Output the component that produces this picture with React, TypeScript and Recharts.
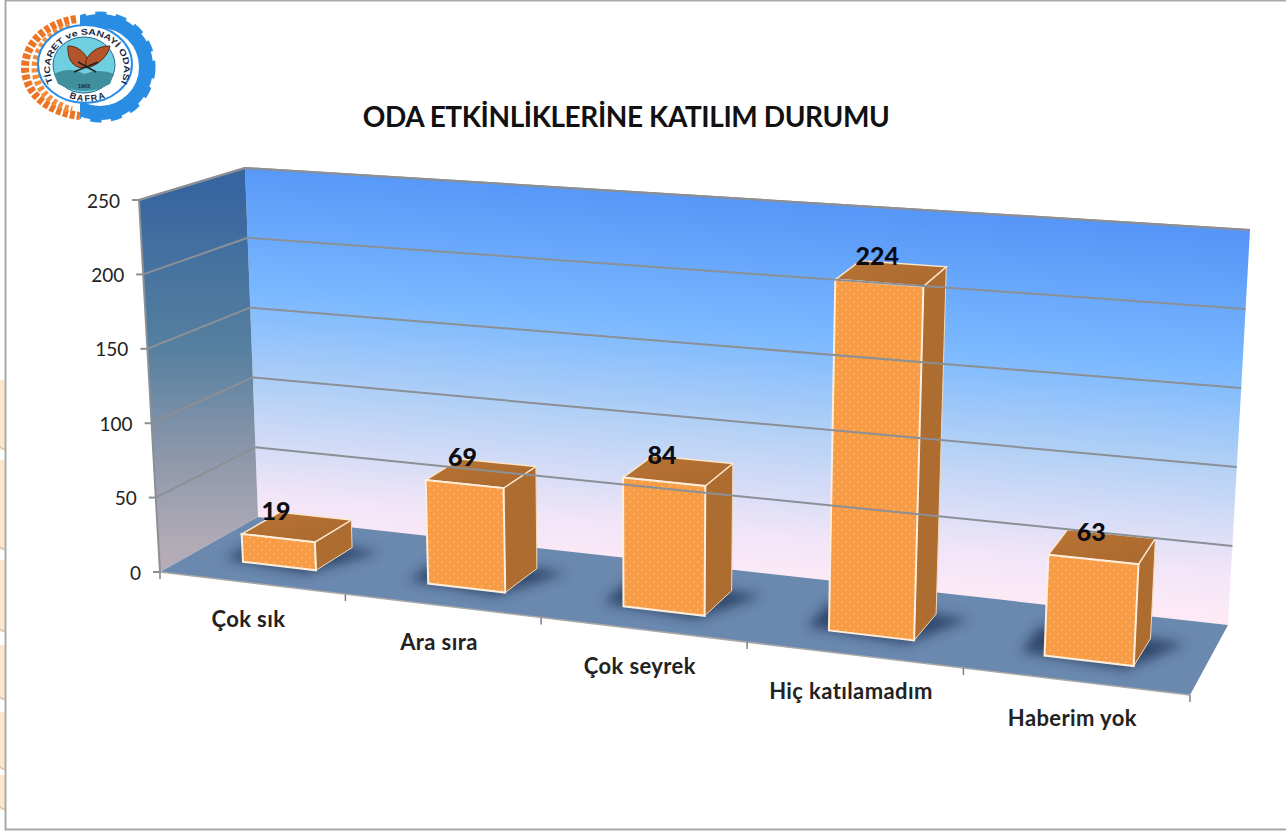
import { Bar, BarChart, LabelList, XAxis, YAxis } from 'recharts'

const categories = ['Çok sık', 'Ara sıra', 'Çok seyrek', 'Hiç katılamadım', 'Haberim yok']
const participants = [19, 69, 84, 224, 63]
const yTicks = [0, 50, 100, 150, 200, 250]

const data = categories.map((name, i) => ({ name, value: participants[i] }))

const W = 1286
const H = 832
const FONT = 'Lato, Carlito, sans-serif'
const LOGO_FONT = 'Liberation Sans, sans-serif'

// flat plot box handed to recharts, re-projected onto the 3d box below
const PL = 100
const PW = 1086
const PT = 100
const PH = 632
const PB = PT + PH

type Pt = [number, number]
const lerp = (a: number, b: number, t: number) => a + (b - a) * t
const mix = (a: Pt, b: Pt, t: number): Pt => [lerp(a[0], b[0], t), lerp(a[1], b[1], t)]

const FBL: Pt = [160, 572]
const FBR: Pt = [1190, 695]
const FTL: Pt = [139, 200]
const FTR: Pt = [1212, 283]
const BBL: Pt = [258, 517]
const BBR: Pt = [1228, 625]
const BTL: Pt = [245, 168]
const BTR: Pt = [1250, 230]

// the right side of the plot sits closer to the camera
const warp = (u: number) => u * (0.875 + 0.125 * u)

function project(u: number, v: number, d: number): Pt {
  const k = warp(u)
  const front = mix(mix(FBL, FBR, k), mix(FTL, FTR, k), v)
  const back = mix(mix(BBL, BBR, k), mix(BTL, BTR, k), v)
  return mix(front, back, d)
}

const poly = (pts: Pt[]) => pts.map((p) => `${p[0].toFixed(1)},${p[1].toFixed(1)}`).join(' ')
const toU = (x: number) => (x - PL) / PW
const toV = (y: number) => (PB - y) / PH

const D0 = 0.3
const D1 = 0.7

function Box3D(props: any) {
  const { x, y, width } = props
  const u0 = toU(x)
  const u1 = toU(x + width)
  const v = toV(y)
  const a = project(u0, v, D0)
  const b = project(u1, v, D0)
  const c = project(u1, 0, D0)
  const e = project(u0, 0, D0)
  const f = project(u1, v, D1)
  const g = project(u1, 0, D1)
  const h = project(u0, v, D1)
  const shadow = [
    project(u0 - 0.022, 0, D0 + 0.02),
    project(u1 - 0.005, 0, D0 - 0.06),
    project(u1 + 0.032, 0, D1 - 0.02),
    project(u1, 0, D1),
    project(u0 - 0.022, 0, D1),
  ]
  return (
    <g>
      <polygon points={poly(shadow)} fill="#22375a" opacity={0.8} filter="url(#floorBlur)" />
      <polygon points={poly([b, c, g, f])} fill="#ad6c30" stroke="#f3d9b8" strokeWidth={1} />
      <polygon points={poly([a, b, f, h])} fill="url(#lid)" stroke="#fbe6cc" strokeWidth={1.5} />
      <polygon points={poly([a, b, c, e])} fill="url(#dots)" stroke="#fdeedd" strokeWidth={2} />
    </g>
  )
}

function BoxLabel(props: any) {
  const { x, y, width, value } = props
  const [px, py] = project(toU(x + width / 2), toV(y), D0)
  return (
    <text x={px - 2} y={py - 28} textAnchor="middle" dominantBaseline="central" fontFamily={FONT} fontSize={25} fontWeight={900} fill="#0c0c14">
      {value}
    </text>
  )
}

function ValueTick(props: any) {
  const { y, payload } = props
  const v = toV(y)
  const f = project(0, v, 0)
  const b = project(0, v, 1)
  const r = project(1, v, 1)
  return (
    <g>
      {v > 0 && <line x1={f[0]} y1={f[1]} x2={b[0]} y2={b[1]} stroke="#8b8f96" strokeWidth={2} />}
      {v > 0 && <line x1={b[0]} y1={b[1]} x2={r[0]} y2={r[1]} stroke="#8b8f96" strokeWidth={2} />}
      <line x1={f[0] - 7} y1={f[1]} x2={f[0]} y2={f[1]} stroke="#8b8f96" strokeWidth={2} />
      <text x={f[0] - 19} y={f[1]} textAnchor="end" dominantBaseline="central" fontFamily={FONT} fontSize={19} fill="#222">
        {payload.value}
      </text>
    </g>
  )
}

function CategoryTick(props: any) {
  const { x, index, payload } = props
  const [lx, ly] = project(toU(x), 0, 0)
  const t0 = project(index / categories.length, 0, 0)
  const t1 = project((index + 1) / categories.length, 0, 0)
  return (
    <g>
      <line x1={t0[0]} y1={t0[1]} x2={t0[0]} y2={t0[1] + 7} stroke="#7d8087" strokeWidth={1.5} />
      {index === categories.length - 1 && <line x1={t1[0]} y1={t1[1]} x2={t1[0]} y2={t1[1] + 7} stroke="#7d8087" strokeWidth={1.5} />}
      <text x={lx - 3} y={ly + 36} textAnchor="middle" dominantBaseline="central" fontFamily={FONT} fontSize={22} fontWeight={700} letterSpacing={0.4} fill="#222">
        {payload.value}
      </text>
    </g>
  )
}

function Logo() {
  return (
    <g>
      <g clipPath="url(#gearClip)">
        <circle cx={100} cy={67} r={46} fill="none" stroke="#2a8de4" strokeWidth={14} />
        <circle cx={100} cy={67} r={52} fill="none" stroke="#2a8de4" strokeWidth={7} strokeDasharray="11 9" />
      </g>
      <path d="M76 19 C42 24 25 46 25 68 C25 92 46 112 80 116" fill="none" stroke="#ec7425" strokeWidth={8} strokeDasharray="5 2" />
      <path d="M70 27 C48 32 35 50 35 68 C35 88 50 104 72 110" fill="none" stroke="#f28d3e" strokeWidth={7} strokeDasharray="4 2.5" />
      <ellipse cx={85} cy={64} rx={47} ry={39} fill="#fff" stroke="#2a8de4" strokeWidth={2} />
      <ellipse cx={84} cy={65} rx={31} ry={28} fill="#6fcfe0" stroke="#1f6a8a" strokeWidth={1} />
      <path d="M54 74 Q70 66 84 74 Q100 68 114 74 L110 84 Q85 98 58 84 Z" fill="#3f8f9c" />
      <path d="M84 68 C72 68 67 58 68 46 C78 46 84 52 88 60 Z" fill="#b4542a" stroke="#5a2a16" strokeWidth={1} />
      <path d="M86 68 C98 66 108 56 110 46 C98 46 90 52 86 60 Z" fill="#b4542a" stroke="#5a2a16" strokeWidth={1} />
      <path d="M74 72 L98 62 M78 62 L96 72" stroke="#222" strokeWidth={1.5} />
      <path id="logoArc" d="M54 84 A37 34 0 1 1 120 84" fill="none" />
      <path id="logoArcLow" d="M64 95 Q86 108 112 95" fill="none" />
      <text fontFamily={LOGO_FONT} fontSize={8.5} fontWeight={700} fill="#1c2a44">
        <textPath href="#logoArc" startOffset="50%" textAnchor="middle" textLength={140} lengthAdjust="spacingAndGlyphs">
          TİCARET ve SANAYİ ODASI
        </textPath>
      </text>
      <text fontFamily={LOGO_FONT} fontSize={9} fontWeight={700} fill="#1c2a44" letterSpacing={1.5}>
        <textPath href="#logoArcLow" startOffset="50%" textAnchor="middle">
          BAFRA
        </textPath>
      </text>
      <text x={84} y={88} textAnchor="middle" fontFamily={LOGO_FONT} fontSize={5.5} fontWeight={700} fill="#1c2a44">
        1903
      </text>
    </g>
  )
}

function Backdrop() {
  const scraps = [
    [380, 450],
    [460, 550],
    [560, 632],
    [645, 700],
    [712, 770],
    [775, 810],
  ]
  return (
    <svg width={W} height={H} style={{ position: 'absolute', left: 0, top: 0 }}>
      <defs>
        <linearGradient id="backWall" gradientUnits="userSpaceOnUse" x1={735} y1={196} x2={705} y2={575}>
          <stop offset="0%" stopColor="#5596f8" />
          <stop offset="35%" stopColor="#7ab8ff" />
          <stop offset="62%" stopColor="#b6d2f5" />
          <stop offset="88%" stopColor="#f1e5f8" />
          <stop offset="100%" stopColor="#fdeaf6" />
        </linearGradient>
        <linearGradient id="sideWall" gradientUnits="userSpaceOnUse" x1={200} y1={185} x2={200} y2={550}>
          <stop offset="0%" stopColor="#36659f" />
          <stop offset="45%" stopColor="#56809f" />
          <stop offset="75%" stopColor="#8f98ab" />
          <stop offset="100%" stopColor="#b3acb6" />
        </linearGradient>
        <linearGradient id="lid" x1={0} y1={0} x2={1} y2={1}>
          <stop offset="0%" stopColor="#b97433" />
          <stop offset="100%" stopColor="#a9682f" />
        </linearGradient>
        <pattern id="dots" width={8} height={8} patternUnits="userSpaceOnUse">
          <rect width={8} height={8} fill="#f79b45" />
          <circle cx={2} cy={2} r={1} fill="#fbb474" />
          <circle cx={6} cy={6} r={1} fill="#fbb474" />
        </pattern>
        <filter id="floorBlur" x="-30%" y="-30%" width="160%" height="160%">
          <feGaussianBlur stdDeviation={6} />
        </filter>
        <clipPath id="gearClip">
          <rect x={80} y={0} width={100} height={130} />
        </clipPath>
      </defs>
      <rect width={W} height={H} fill="#fff" />
      {scraps.map(([a, b]) => (
        <g key={a}>
          <rect x={0} y={a} width={5} height={b - a} fill="#fde6cc" />
          <line x1={0} y1={b - 3} x2={5} y2={b} stroke="#b8b8b8" />
        </g>
      ))}
      <rect x={5.5} y={0.5} width={W} height={829} fill="none" stroke="#a9a9a9" strokeWidth={2} />
      <polygon points={poly([BTL, BTR, BBR, BBL])} fill="url(#backWall)" />
      <polygon points={poly([FTL, BTL, BBL, FBL])} fill="url(#sideWall)" />
      <polygon points={poly([FBL, FBR, BBR, BBL])} fill="#6b88ae" />
      <polyline points={poly([FBL, FTL, BTL, BTR])} fill="none" stroke="#8b8f96" strokeWidth={2} />
      <line x1={FBL[0]} y1={FBL[1]} x2={FBR[0]} y2={FBR[1]} stroke="#a8a8a8" strokeWidth={1.5} />
      <Logo />
      <text x={626} y={116} textAnchor="middle" dominantBaseline="central" fontFamily={FONT} fontSize={28} fontWeight={700} fill="#111" letterSpacing={-0.4}>
        ODA ETKİNLİKLERİNE KATILIM DURUMU
      </text>
    </svg>
  )
}

export default function App() {
  return (
    <div style={{ position: 'fixed', left: 0, top: 0, width: W, height: H, overflow: 'hidden', background: '#fff' }}>
      <Backdrop />
      <div style={{ position: 'absolute', left: 0, top: 0 }}>
        <BarChart
          width={W}
          height={H}
          data={data}
          margin={{ top: PT, right: W - PL - PW, bottom: 40, left: 40 }}
          barCategoryGap="30%"
        >
          <XAxis dataKey="name" height={60} axisLine={false} tickLine={false} interval={0} tick={CategoryTick} />
          <YAxis width={60} domain={[0, 250]} ticks={yTicks} axisLine={false} tickLine={false} tick={ValueTick} />
          <Bar dataKey="value" isAnimationActive={false} shape={Box3D}>
            <LabelList dataKey="value" content={BoxLabel} />
          </Bar>
        </BarChart>
      </div>
    </div>
  )
}
